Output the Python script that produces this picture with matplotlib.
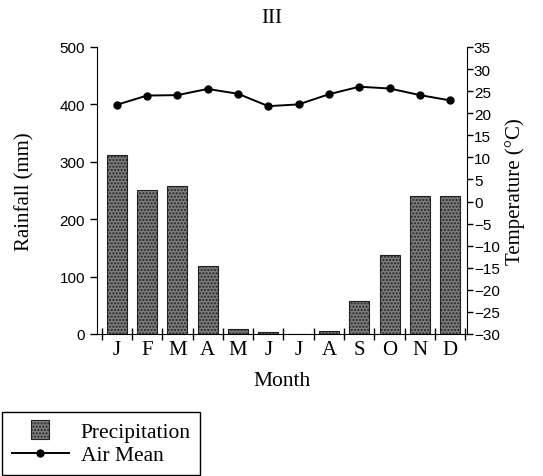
import matplotlib.pyplot as plt
import matplotlib.patches as mpatches
from matplotlib.legend_handler import HandlerPatch
import numpy as np

months = ['J', 'F', 'M', 'A', 'M', 'J', 'J', 'A', 'S', 'O', 'N', 'D']
rain = [312, 250, 258, 118, 8, 4, 0, 5, 58, 137, 240, 240]
temp = [21.9, 24.0, 24.1, 25.5, 24.4, 21.6, 22.0, 24.3, 26.0, 25.6, 24.1, 22.9]

serif = 'Liberation Serif'
num = 'Liberation Sans'

fig = plt.figure(figsize=(5.43, 4.77), dpi=100)
ax = fig.add_axes([0.1786, 0.2977, 0.6814, 0.6017])
x = np.arange(len(months))

bars = ax.bar(x, rain, width=0.66, color='#7c7c7c', edgecolor='#222222',
              hatch='.....', linewidth=0.8, label='Precipitation')
ax.set_xlim(-0.65, 11.55)
ax.set_ylim(0, 500)
ax.set_yticks(range(0, 501, 100))
ax.set_xticks(x)
ax.set_xticklabels(months, fontfamily=serif, fontsize=15)
ax.set_xticks(np.arange(-0.5, 12, 1), minor=True)
ax.tick_params(axis='x', which='major', length=0, pad=4)
ax.tick_params(axis='x', which='minor', direction='inout', length=9, width=1)
ax.tick_params(axis='y', direction='out', length=5, width=1, labelsize=11)
for t in ax.get_yticklabels():
    t.set_fontfamily(num)
ax.spines['top'].set_visible(False)
ax.spines['right'].set_visible(False)
ax.set_xlabel('Month', fontfamily=serif, fontsize=15.5, labelpad=9)
ax.set_ylabel('Rainfall (mm)', fontfamily=serif, fontsize=15, labelpad=18)

ax2 = ax.twinx()
ln, = ax2.plot(x, temp, color='black', lw=1.4, marker='o', ms=5, label='Air Mean')
ax2.set_ylim(-30, 35)
ax2.set_yticks(range(-30, 36, 5))
ax2.set_yticklabels([str(v).replace('-', '\u2212') for v in range(-30, 36, 5)])
ax2.tick_params(axis='y', direction='out', length=4, width=1, labelsize=11, pad=1)
for t in ax2.get_yticklabels():
    t.set_fontfamily(num)
ax2.spines['top'].set_visible(False)
ax2.spines['left'].set_visible(False)
ax2.spines['bottom'].set_visible(False)
ax2.set_ylabel('Temperature (\u00b0C)', fontfamily=serif, fontsize=15)

fig.text(0.5, 0.962, 'III', ha='center', va='center', fontfamily=serif, fontsize=15)


def small_box(legend, orig_handle, xdescent, ydescent, width, height, fontsize):
    s = height * 1.2
    return mpatches.Rectangle((width / 2 - s / 2, height / 2 - s / 2), s, s)


leg = fig.legend([bars[0], ln], ['Precipitation', 'Air Mean'],
                 loc='lower left', bbox_to_anchor=(0.004, 0.002),
                 prop={'family': serif, 'size': 15.5}, frameon=True, fancybox=False,
                 edgecolor='black', framealpha=1, handlelength=2.65,
                 borderpad=0.45, labelspacing=0.15, handletextpad=0.55,
                 borderaxespad=0,
                 handler_map={mpatches.Rectangle: HandlerPatch(patch_func=small_box)})
leg.get_frame().set_linewidth(1)

fig.savefig('out.png', dpi=100)
